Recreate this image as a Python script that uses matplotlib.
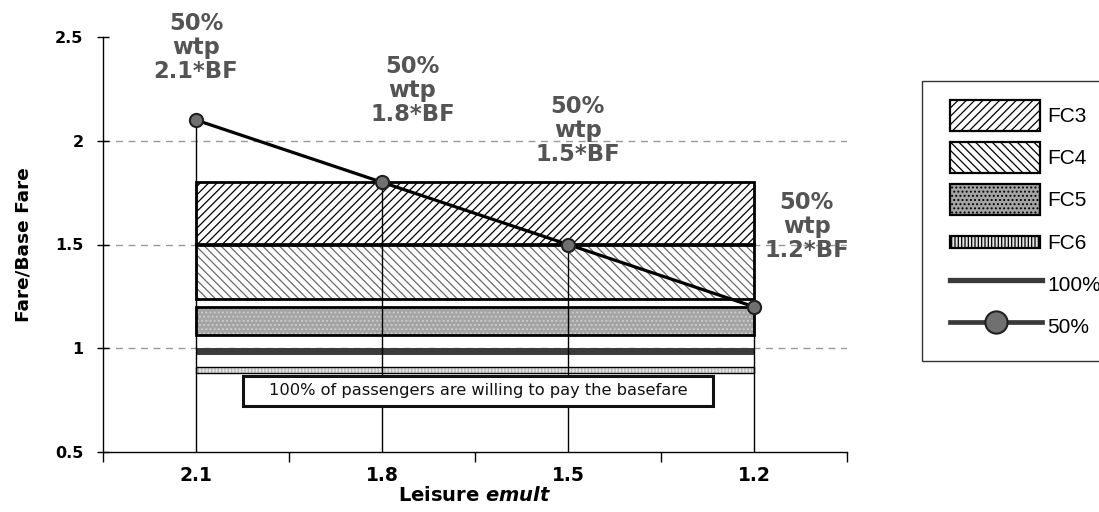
import matplotlib
matplotlib.use("Agg")
import matplotlib.pyplot as plt
from matplotlib.patches import Rectangle
from matplotlib.lines import Line2D
from matplotlib.legend_handler import HandlerPatch, HandlerLine2D

plt.rcParams['font.family'] = ['DejaVu Sans']
plt.rcParams['mathtext.fontset'] = 'custom'
plt.rcParams['mathtext.it'] = 'DejaVu Sans:italic:bold'
plt.rcParams['mathtext.rm'] = 'DejaVu Sans:bold'
plt.rcParams['hatch.linewidth'] = 0.9

# ---------------- data ----------------
categories = ['2.1', '1.8', '1.5', '1.2']          # Leisure emult
wtp50 = [2.1, 1.8, 1.5, 1.2]                       # 50% wtp fare / base fare
fc_names = ['FC3', 'FC4', 'FC5', 'FC6']
fc_low = [1.50, 1.235, 1.065, 0.88]
fc_high = [1.80, 1.50, 1.20, 0.91]
fare100 = 0.985                                     # 100% wtp line
yticks = [0.5, 1, 1.5, 2, 2.5]
grid_levels = [1, 1.5, 2]
note_text = '100% of passengers are willing to pay the basefare'

# ---------------- styles ----------------
fc_styles = {
    'FC3': dict(face='white', hatch='////', hcolor='black', edge_lw=2.0),
    'FC4': dict(face='white', hatch='\\\\\\\\', hcolor='#6a6a6a', edge_lw=2.0),
    'FC5': dict(face='#a4a4a4', hatch='....', hcolor='#cdcdcd', edge_lw=2.0),
    'FC6': dict(face='#e2e2e2', hatch='|||||', hcolor='#b5b5b5', edge_lw=1.0),
}
legend_heights = {'FC3': 1.0, 'FC4': 1.0, 'FC5': 1.0, 'FC6': 0.38}
ann_offsets = [(0, 52), (22, 66), (7, 82), (38, 58)]   # points, label vs point

fig = plt.figure(figsize=(10.99, 5.12), dpi=100)
ax = fig.add_axes([103/1099, 60/512, 744/1099, 415/512])

x = list(range(len(categories)))
span = x[-1] - x[0]

# grid
for g in grid_levels:
    ax.axhline(g, color='#9a9a9a', lw=1.0, ls=(0, (5, 4)), zorder=0)

# fare class bands
for name, lo, hi in zip(fc_names, fc_low, fc_high):
    st = fc_styles[name]
    ax.barh((lo + hi) / 2, span, left=x[0], height=hi - lo,
            color=st['face'], edgecolor=st['hcolor'], hatch=st['hatch'],
            linewidth=0, zorder=1)
    ax.barh((lo + hi) / 2, span, left=x[0], height=hi - lo,
            fill=False, edgecolor='black', linewidth=st['edge_lw'], zorder=2)

# 100% line
ax.plot([x[0], x[-1]], [fare100, fare100], color='#3a3a3a', lw=5,
        solid_capstyle='butt', zorder=3)

# vertical drop lines
ax.vlines(x, yticks[0], wtp50, color='black', lw=1.0, zorder=3)

# 50% line
ax.plot(x, wtp50, color='black', lw=2.3, marker='o', ms=9.5,
        mfc='#707070', mec='#202020', mew=1.5, zorder=5)

# annotations
for xi, v, off in zip(x, wtp50, ann_offsets):
    ax.annotate('50%\nwtp\n' + f'{v:.1f}*BF', xy=(xi, v), xytext=off,
                textcoords='offset points', ha='center', va='center',
                fontsize=16.3, fontweight='bold', color='#545454',
                linespacing=1.05, zorder=6)

# note box
note_box = Rectangle((0.1882, 0.1105), 0.6317, 0.0735, transform=ax.transAxes,
                     facecolor='white', edgecolor='#111111', lw=2.2, zorder=6)
ax.add_patch(note_box)
ax.text(0.1882 + 0.6317 / 2, 0.1105 + 0.0735 / 2, note_text,
        transform=ax.transAxes, ha='center', va='center',
        fontsize=11.7, color='#111111', zorder=7)

# axes
ax.set_xlim(-0.5, len(categories) - 0.5)
ax.set_ylim(yticks[0], yticks[-1])
ax.set_yticks(yticks)
ax.set_yticklabels([f'{t:g}' for t in yticks], fontsize=11.5, fontweight='bold')
ax.set_xticks(x)
ax.set_xticklabels(categories, fontsize=13.5, fontweight='bold')
ax.set_xticks([i - 0.5 for i in range(len(categories) + 1)], minor=True)
ax.tick_params(axis='x', which='major', length=0, pad=10)
ax.tick_params(axis='x', which='minor', length=7, direction='out', width=1)
ax.tick_params(axis='y', length=8, direction='inout', width=1, pad=10)
for s in ['top', 'right']:
    ax.spines[s].set_visible(False)
for s in ['left', 'bottom']:
    ax.spines[s].set_linewidth(1.0)
ax.set_ylabel('Fare/Base Fare', fontsize=13.3, fontweight='bold', labelpad=16)
ax.set_xlabel(r'Leisure $\it{emult}$', fontsize=14, fontweight='bold', labelpad=1)

# legend
SHIFT = 6.5  # points


def make_patch_func(hfrac):
    def f(legend, orig_handle, xdescent, ydescent, width, height, fontsize):
        h = height * hfrac
        return Rectangle((-xdescent + SHIFT, -ydescent + (height - h) / 2),
                         width - SHIFT, h)
    return f


class ShiftLine(HandlerLine2D):
    def create_artists(self, legend, orig_handle, xdescent, ydescent, width,
                       height, fontsize, trans):
        return super().create_artists(legend, orig_handle, xdescent - SHIFT,
                                      ydescent, width - SHIFT + 2, height,
                                      fontsize, trans)


handles = []
hmap = {}
for name in fc_names:
    st = fc_styles[name]
    p = Rectangle((0, 0), 1, 1, facecolor=st['face'], edgecolor='black',
                  hatch=st['hatch'], linewidth=1.6)
    handles.append(p)
    hmap[p] = HandlerPatch(patch_func=make_patch_func(legend_heights[name]))
l100 = Line2D([], [], color='#3a3a3a', lw=3.8)
l50 = Line2D([], [], color='#3a3a3a', lw=3.4, marker='o', ms=16,
             mfc='#707070', mec='#202020', mew=1.5)
handles += [l100, l50]
hmap[l100] = ShiftLine()
hmap[l50] = ShiftLine()
labels = fc_names + ['100%', '50%']
leg = fig.legend(handles, labels, handler_map=hmap, loc='upper left',
                 bbox_to_anchor=(922/1099, 1 - 81/512), borderaxespad=0,
                 prop={'family': 'Liberation Sans', 'size': 15},
                 handlelength=4.75, handleheight=1.9,
                 handletextpad=0.38, labelspacing=0.55, borderpad=0.9,
                 frameon=True, fancybox=False, edgecolor='black')
leg.get_frame().set_linewidth(1.0)

fig.savefig('out.png', dpi=100)
